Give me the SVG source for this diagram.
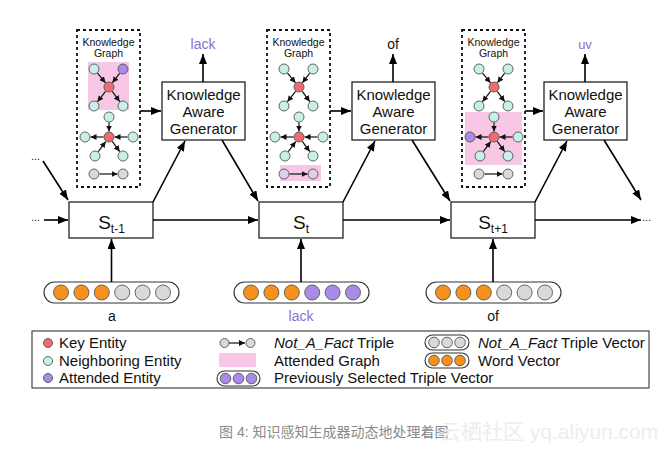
<svg xmlns="http://www.w3.org/2000/svg" width="669" height="452" viewBox="0 0 669 452">
<defs>
<marker id="ah" markerUnits="userSpaceOnUse" markerWidth="10" markerHeight="8" refX="10" refY="4" orient="auto"><path d="M0,0 L10,4 L0,8 z" fill="#000"/></marker>
<marker id="sh" markerUnits="userSpaceOnUse" markerWidth="6" markerHeight="6" refX="6" refY="3" orient="auto"><path d="M0,0 L6,3 L0,6 z" fill="#111"/></marker>
</defs>
<style>
text{font-family:"Liberation Sans",Arial,sans-serif;fill:#111}
.kg{fill:none;stroke:#111;stroke-width:1.8;stroke-dasharray:3 3}
.kgt{font-size:10.5px;text-anchor:middle}
.pink{fill:#f8c7e6;stroke:none}
.n{stroke:#555;stroke-width:0.9}
.key{fill:#ef6b70}.nb{fill:#c5f1e6}.att{fill:#a98ae6}.gr{fill:#d9d9d9}.or{fill:#f5921e}.lav{fill:#ded0ec}
.se{stroke:#111;stroke-width:1.2;fill:none;marker-end:url(#sh)}
.box{fill:#fff;stroke:#222;stroke-width:1.3}
.kag{font-size:15px;text-anchor:middle}
.c{stroke:#000;stroke-width:1.6;fill:none;marker-end:url(#ah)}
.pill{fill:#fff;stroke:#333;stroke-width:1.1}
.lg{font-size:15px}
.pu{fill:#8e6fd0}
</style>

<g id="kg1">
<rect class="kg" x="77" y="30" width="63" height="157"/>
<text class="kgt" x="108.5" y="46">Knowledge</text>
<text class="kgt" x="108.5" y="57">Graph</text>
<rect class="pink" x="88" y="62" width="41" height="48"/>
<line class="se" x1="97.5" y1="73.2" x2="105.5" y2="82.8"/>
<line class="se" x1="119.6" y1="73.3" x2="112.4" y2="82.7"/>
<line class="se" x1="105.6" y1="91.3" x2="97.4" y2="101.7"/>
<line class="se" x1="112.3" y1="91.4" x2="119.7" y2="101.6"/>
<circle class="n nb" cx="94" cy="69" r="5"/><circle class="n att" cx="123" cy="69" r="5"/>
<circle class="n key" cx="109" cy="87" r="5"/>
<circle class="n nb" cx="94" cy="106" r="5"/><circle class="n nb" cx="123" cy="106" r="5"/>
<line class="se" x1="109" y1="122.5" x2="109" y2="131.5"/>
<line class="se" x1="103.5" y1="137" x2="90.5" y2="137"/>
<line class="se" x1="127.5" y1="137" x2="114.5" y2="137"/>
<line class="se" x1="98.3" y1="151.6" x2="105.7" y2="141.6"/>
<line class="se" x1="112.3" y1="141.4" x2="119.7" y2="151.6"/>
<circle class="n nb" cx="109" cy="117" r="5"/><circle class="n nb" cx="85" cy="137" r="5"/>
<circle class="n key" cx="109" cy="137" r="5"/><circle class="n nb" cx="133" cy="137" r="5"/>
<circle class="n nb" cx="95" cy="156" r="5"/><circle class="n nb" cx="123" cy="156" r="5"/>
<line class="se" x1="99.5" y1="174" x2="117.5" y2="174"/>
<circle class="n gr" cx="94" cy="174" r="5"/><circle class="n gr" cx="123" cy="174" r="5"/>
</g>

<g id="kg2" transform="translate(190,0)">
<rect class="kg" x="77" y="30" width="63" height="157"/>
<text class="kgt" x="108.5" y="46">Knowledge</text>
<text class="kgt" x="108.5" y="57">Graph</text>
<line class="se" x1="97.5" y1="73.2" x2="105.5" y2="82.8"/>
<line class="se" x1="119.6" y1="73.3" x2="112.4" y2="82.7"/>
<line class="se" x1="105.6" y1="91.3" x2="97.4" y2="101.7"/>
<line class="se" x1="112.3" y1="91.4" x2="119.7" y2="101.6"/>
<circle class="n nb" cx="94" cy="69" r="5"/><circle class="n nb" cx="123" cy="69" r="5"/>
<circle class="n key" cx="109" cy="87" r="5"/>
<circle class="n nb" cx="94" cy="106" r="5"/><circle class="n nb" cx="123" cy="106" r="5"/>
<line class="se" x1="109" y1="122.5" x2="109" y2="131.5"/>
<line class="se" x1="103.5" y1="137" x2="90.5" y2="137"/>
<line class="se" x1="127.5" y1="137" x2="114.5" y2="137"/>
<line class="se" x1="98.3" y1="151.6" x2="105.7" y2="141.6"/>
<line class="se" x1="112.3" y1="141.4" x2="119.7" y2="151.6"/>
<circle class="n nb" cx="109" cy="117" r="5"/><circle class="n nb" cx="85" cy="137" r="5"/>
<circle class="n key" cx="109" cy="137" r="5"/><circle class="n nb" cx="133" cy="137" r="5"/>
<circle class="n nb" cx="95" cy="156" r="5"/><circle class="n nb" cx="123" cy="156" r="5"/>
<rect class="pink" x="90" y="165" width="41" height="16"/>
<line class="se" x1="99.5" y1="174" x2="117.5" y2="174"/>
<circle class="n lav" cx="94" cy="174" r="5"/><circle class="n lav" cx="123" cy="174" r="5"/>
</g>

<g id="kg3" transform="translate(385,0)">
<rect class="kg" x="77" y="30" width="63" height="157"/>
<text class="kgt" x="108.5" y="46">Knowledge</text>
<text class="kgt" x="108.5" y="57">Graph</text>
<line class="se" x1="97.5" y1="73.2" x2="105.5" y2="82.8"/>
<line class="se" x1="119.6" y1="73.3" x2="112.4" y2="82.7"/>
<line class="se" x1="105.6" y1="91.3" x2="97.4" y2="101.7"/>
<line class="se" x1="112.3" y1="91.4" x2="119.7" y2="101.6"/>
<circle class="n nb" cx="94" cy="69" r="5"/><circle class="n nb" cx="123" cy="69" r="5"/>
<circle class="n key" cx="109" cy="87" r="5"/>
<circle class="n nb" cx="94" cy="106" r="5"/><circle class="n nb" cx="123" cy="106" r="5"/>
<rect class="pink" x="80" y="112" width="57" height="53"/>
<line class="se" x1="109" y1="122.5" x2="109" y2="131.5"/>
<line class="se" x1="103.5" y1="137" x2="90.5" y2="137"/>
<line class="se" x1="127.5" y1="137" x2="114.5" y2="137"/>
<line class="se" x1="98.3" y1="151.6" x2="105.7" y2="141.6"/>
<line class="se" x1="112.3" y1="141.4" x2="119.7" y2="151.6"/>
<circle class="n nb" cx="109" cy="117" r="5"/><circle class="n att" cx="85" cy="137" r="5"/>
<circle class="n key" cx="109" cy="137" r="5"/><circle class="n nb" cx="133" cy="137" r="5"/>
<circle class="n nb" cx="95" cy="156" r="5"/><circle class="n nb" cx="123" cy="156" r="5"/>
<line class="se" x1="99.5" y1="174" x2="117.5" y2="174"/>
<circle class="n gr" cx="94" cy="174" r="5"/><circle class="n gr" cx="123" cy="174" r="5"/>
</g>

<g id="kag1"><rect class="box" x="162" y="82" width="83" height="58"/>
<text class="kag" x="203.5" y="100">Knowledge</text><text class="kag" x="203.5" y="117">Aware</text><text class="kag" x="203.5" y="134">Generator</text></g>
<g id="kag2"><rect class="box" x="352" y="82" width="83" height="58"/>
<text class="kag" x="393.5" y="100">Knowledge</text><text class="kag" x="393.5" y="117">Aware</text><text class="kag" x="393.5" y="134">Generator</text></g>
<g id="kag3"><rect class="box" x="544" y="82" width="83" height="58"/>
<text class="kag" x="585.5" y="100">Knowledge</text><text class="kag" x="585.5" y="117">Aware</text><text class="kag" x="585.5" y="134">Generator</text></g>

<g id="out1"><text class="pu" x="203" y="49" font-size="14" text-anchor="middle">lack</text></g>
<g id="out2"><text x="393" y="49" font-size="14" text-anchor="middle">of</text></g>
<g id="out3"><text class="pu" x="585" y="49" font-size="13" text-anchor="middle">uv</text></g>

<g id="s1"><rect class="box" x="69" y="202" width="84" height="36"/>
<text x="111.5" y="229" font-size="19" text-anchor="middle">S<tspan font-size="12" dy="4">t-1</tspan></text></g>
<g id="s2"><rect class="box" x="259" y="202" width="84" height="36"/>
<text x="301" y="229" font-size="19" text-anchor="middle">S<tspan font-size="12" dy="4">t</tspan></text></g>
<g id="s3"><rect class="box" x="451" y="202" width="84" height="36"/>
<text x="493" y="229" font-size="19" text-anchor="middle">S<tspan font-size="12" dy="4">t+1</tspan></text></g>

<g id="wv1"><rect class="pill" x="44" y="282" width="135" height="21" rx="10.5"/>
<circle class="n or" cx="61" cy="292.5" r="7.5"/><circle class="n or" cx="81.4" cy="292.5" r="7.5"/><circle class="n or" cx="101.8" cy="292.5" r="7.5"/>
<circle class="n gr" cx="122.2" cy="292.5" r="7.5"/><circle class="n gr" cx="142.6" cy="292.5" r="7.5"/><circle class="n gr" cx="163" cy="292.5" r="7.5"/>
<text x="112" y="321" font-size="14" text-anchor="middle">a</text></g>
<g id="wv2"><rect class="pill" x="234" y="282" width="135" height="21" rx="10.5"/>
<circle class="n or" cx="251" cy="292.5" r="7.5"/><circle class="n or" cx="271.4" cy="292.5" r="7.5"/><circle class="n or" cx="291.8" cy="292.5" r="7.5"/>
<circle class="n att" cx="312.2" cy="292.5" r="7.5"/><circle class="n att" cx="332.6" cy="292.5" r="7.5"/><circle class="n att" cx="353" cy="292.5" r="7.5"/>
<text class="pu" x="301" y="321" font-size="14" text-anchor="middle">lack</text></g>
<g id="wv3"><rect class="pill" x="426" y="282" width="135" height="21" rx="10.5"/>
<circle class="n or" cx="443" cy="292.5" r="7.5"/><circle class="n or" cx="463.4" cy="292.5" r="7.5"/><circle class="n or" cx="483.8" cy="292.5" r="7.5"/>
<circle class="n gr" cx="504.2" cy="292.5" r="7.5"/><circle class="n gr" cx="524.6" cy="292.5" r="7.5"/><circle class="n gr" cx="545" cy="292.5" r="7.5"/>
<text x="493" y="321" font-size="14" text-anchor="middle">of</text></g>

<g id="connectors">
<line class="c" x1="140" y1="111" x2="161" y2="111"/>
<line class="c" x1="330" y1="111" x2="351" y2="111"/>
<line class="c" x1="525" y1="111" x2="543" y2="111"/>
<line class="c" x1="203" y1="82" x2="203" y2="54"/>
<line class="c" x1="393" y1="82" x2="393" y2="54"/>
<line class="c" x1="585" y1="82" x2="585" y2="54"/>
<line class="c" x1="153" y1="202" x2="185" y2="141"/>
<line class="c" x1="343" y1="202" x2="375" y2="141"/>
<line class="c" x1="535" y1="202" x2="567" y2="141"/>
<line class="c" x1="222" y1="140" x2="258" y2="201"/>
<line class="c" x1="412" y1="140" x2="450" y2="201"/>
<line class="c" x1="604" y1="140" x2="641" y2="200"/>
<line class="c" x1="111.5" y1="282" x2="111.5" y2="239"/>
<line class="c" x1="301" y1="282" x2="301" y2="239"/>
<line class="c" x1="493" y1="282" x2="493" y2="239"/>
<line class="c" x1="44" y1="220" x2="68" y2="220"/>
<line class="c" x1="153" y1="220" x2="258" y2="220"/>
<line class="c" x1="343" y1="220" x2="450" y2="220"/>
<line class="c" x1="535" y1="220" x2="641" y2="220"/>
<line class="c" x1="43" y1="161" x2="68" y2="200"/>
<text x="31" y="221" font-size="11">...</text>
<text x="31" y="160" font-size="11">...</text>
<text x="642" y="221" font-size="11">...</text>
</g>

<g id="legend">
<rect x="32" y="331" width="617" height="57" fill="#fff" stroke="#333" stroke-width="1.1"/>
<circle class="n key" cx="48" cy="343" r="4.5"/><text class="lg" x="59" y="348">Key Entity</text>
<circle class="n nb" cx="48" cy="361" r="4.5"/><text class="lg" x="59" y="366">Neighboring Entity</text>
<circle class="n att" cx="48" cy="378" r="4.5"/><text class="lg" x="59" y="383">Attended Entity</text>
<line class="se" x1="229" y1="343" x2="245" y2="343"/>
<circle class="n gr" cx="224.5" cy="343" r="4.5"/><circle class="n gr" cx="250.5" cy="343" r="4.5"/>
<text class="lg" x="274" y="348"><tspan font-style="italic">Not_A_Fact</tspan> Triple</text>
<rect class="pink" x="219" y="353" width="37" height="14"/>
<text class="lg" x="274" y="366">Attended Graph</text>
<rect class="pill" x="217" y="371" width="43" height="15" rx="7.5"/>
<circle class="n att" cx="225.5" cy="378.5" r="5.3"/><circle class="n att" cx="238.5" cy="378.5" r="5.3"/><circle class="n att" cx="251.5" cy="378.5" r="5.3"/>
<text class="lg" x="274" y="383">Previously Selected Triple Vector</text>
<rect class="pill" x="425" y="335" width="44" height="15" rx="7.5"/>
<circle class="n gr" cx="434" cy="342.5" r="5.3"/><circle class="n gr" cx="447" cy="342.5" r="5.3"/><circle class="n gr" cx="460" cy="342.5" r="5.3"/>
<text class="lg" x="478" y="348"><tspan font-style="italic">Not_A_Fact</tspan> Triple Vector</text>
<rect class="pill" x="425" y="353" width="44" height="15" rx="7.5"/>
<circle class="n or" cx="434" cy="360.5" r="5.3"/><circle class="n or" cx="447" cy="360.5" r="5.3"/><circle class="n or" cx="460" cy="360.5" r="5.3"/>
<text class="lg" x="478" y="366">Word Vector</text>
</g>

<g id="caption">
<text x="219" y="437" font-size="14" style="fill:#8a8a8a;font-family:'Liberation Sans','Noto Sans CJK SC',sans-serif">图 4: 知识感知生成器动态地处理着图</text>
<text x="440" y="439" font-size="21" style="fill:#ededed;font-family:'Liberation Sans','Noto Sans CJK SC',sans-serif">云栖社区 yq.aliyun.com</text>
</g>
</svg>
